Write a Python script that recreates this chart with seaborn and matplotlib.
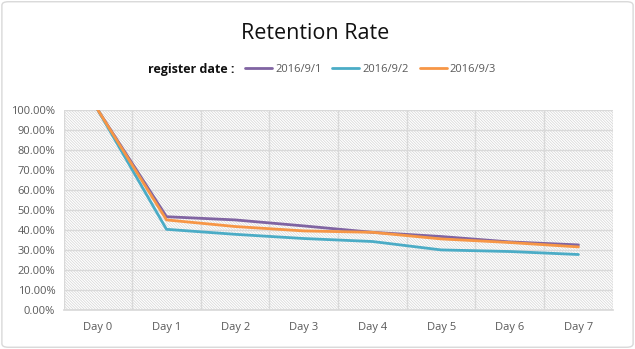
import numpy as np
import pandas as pd
import matplotlib
matplotlib.use("Agg")
import matplotlib.pyplot as plt
import seaborn as sns
from matplotlib.patches import FancyBboxPatch, Rectangle
from matplotlib.lines import Line2D

days = ["Day 0", "Day 1", "Day 2", "Day 3", "Day 4", "Day 5", "Day 6", "Day 7"]
series_names = ["2016/9/1", "2016/9/2", "2016/9/3"]
s_0901 = [1.000, 0.466, 0.450, 0.420, 0.388, 0.367, 0.340, 0.325]
s_0902 = [1.000, 0.403, 0.378, 0.357, 0.342, 0.300, 0.292, 0.277]
s_0903 = [1.000, 0.450, 0.417, 0.395, 0.388, 0.355, 0.337, 0.315]
colors = ["#8064A2", "#4BACC6", "#F79646"]
yticks = [0.0, 0.1, 0.2, 0.3, 0.4, 0.5, 0.6, 0.7, 0.8, 0.9, 1.0]

rows = []
for name, vals in zip(series_names, [s_0901, s_0902, s_0903]):
    for i, v in enumerate(vals):
        rows.append({"day": i, "rate": v, "date": name})
df = pd.DataFrame(rows)

sns.set_theme(style="white")
plt.rcParams["font.family"] = ["Open Sans", "DejaVu Sans"]
plt.rcParams["hatch.color"] = "#d4d4d4"
plt.rcParams["hatch.linewidth"] = 0.5

fig = plt.figure(figsize=(6.35, 3.49), dpi=100)
ax = fig.add_axes([0.1, 0.112, 0.865, 0.573])

# hatched background
ax.add_patch(Rectangle((0, 0), 1, 1, transform=ax.transAxes, facecolor="white",
                       edgecolor="#d4d4d4", hatch="\\" * 12, linewidth=0, zorder=0))

sns.lineplot(data=df, x="day", y="rate", hue="date", palette=colors,
             linewidth=2, ax=ax, legend=False, zorder=3)

ax.set_xlim(-0.5, 7.5)
ax.set_ylim(0, 1.0)
ax.set_xticks(range(len(days)))
ax.set_xticklabels(days)
ax.set_xticks(np.arange(-0.5, 8.0, 1.0), minor=True)
ax.set_yticks(yticks)
ax.set_yticklabels([f"{v*100:.2f}%" for v in yticks])
ax.grid(True, which="minor", axis="x", color="#d9d9d9", linewidth=1, zorder=1)
ax.grid(True, which="major", axis="y", color="#d9d9d9", linewidth=1, zorder=1)
ax.grid(False, which="major", axis="x")
ax.set_axisbelow(True)
for s in ["top", "right", "left"]:
    ax.spines[s].set_visible(False)
ax.spines["bottom"].set_color("#d9d9d9")
ax.tick_params(axis="both", which="both", length=0, labelsize=8, colors="#595959", pad=6)
ax.tick_params(axis="x", pad=9)
ax.set_xlabel("")
ax.set_ylabel("")

fig.text(0.497, 0.905, "Retention Rate", ha="center", va="center", fontsize=15.5, color="#111111")
fig.text(0.233, 0.80, "register date :", ha="left", va="center", fontsize=9,
         fontweight="bold", color="#111111")
handles = [Line2D([0], [0], color=c, lw=2) for c in colors]
fig.legend(handles, series_names, loc="center left", bbox_to_anchor=(0.37, 0.80),
           ncol=3, frameon=False, fontsize=8, handlelength=2.4, handletextpad=0.3,
           columnspacing=1.0, labelcolor="#595959")

fig.patches.append(FancyBboxPatch((0.003, 0.005), 0.994, 0.99, boxstyle="round,pad=0,rounding_size=0.01",
                                  transform=fig.transFigure, facecolor="none",
                                  edgecolor="#d9d9d9", linewidth=1))

fig.savefig("out.png", dpi=100)
